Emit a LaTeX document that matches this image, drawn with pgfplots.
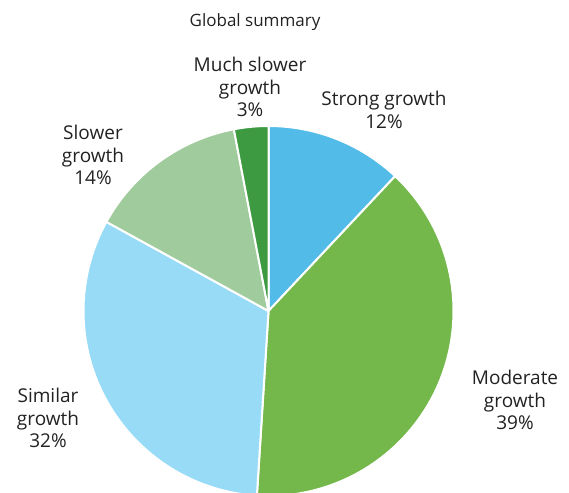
\documentclass[border=0pt]{standalone}
\usepackage{pgfplots}
\pgfplotsset{compat=1.18}
\usepackage{pgfplotstable}
\usepackage{fontspec}
\setmainfont{Open Sans}

\definecolor{cStrong}{HTML}{52BBE8}
\definecolor{cModerate}{HTML}{74B84B}
\definecolor{cSimilar}{HTML}{98DBF7}
\definecolor{cSlower}{HTML}{A0CB9C}
\definecolor{cMuchSlower}{HTML}{3D9A40}
\definecolor{txt}{HTML}{222222}

% shares in percent, clockwise from 12 o'clock
\pgfplotstableread{
share col
12 cStrong
39 cModerate
32 cSimilar
14 cSlower
3  cMuchSlower
}\piedata

\def\cx{268.5}\def\cy{181}\def\R{185}

\begin{document}
\begin{tikzpicture}
\begin{axis}[
    at={(0,0)}, anchor=south west, scale only axis,
    x=1pt, y=1pt, xmin=0, xmax=569, ymin=0, ymax=492,
    hide axis, clip=true,
  ]
  \def\cum{0}
  \pgfplotsforeachungrouped \i in {0,...,4}{%
    \pgfplotstablegetelem{\i}{share}\of\piedata \let\share\pgfplotsretval
    \pgfplotstablegetelem{\i}{col}\of\piedata \let\col\pgfplotsretval
    \pgfmathsetmacro\aStart{90-3.6*\cum}
    \pgfmathsetmacro\aEnd{90-3.6*(\cum+\share)}
    \pgfmathsetmacro\cum{\cum+\share}
    \edef\temp{\noexpand\fill[\col, draw=white, line width=2pt, line join=round]
      (axis cs:\cx,\cy) -- ++(\aStart:\R pt)
      arc[start angle=\aStart, end angle=\aEnd, radius=\R pt] -- cycle;}
    \temp
  }
  \tikzset{lbl/.style={align=center, text=txt, font=\fontsize{19}{22.5}\selectfont}}
  \node[text=txt, font=\fontsize{17}{20}\selectfont] at (axis cs:255,470) {Global summary};
  \node[lbl] at (axis cs:250,405) {Much slower\\growth\\3\%};
  \node[lbl] at (axis cs:384,382) {Strong growth\\12\%};
  \node[lbl] at (axis cs:93,337) {Slower\\growth\\14\%};
  \node[lbl] at (axis cs:48,74) {Similar\\growth\\32\%};
  \node[lbl] at (axis cs:515,92) {Moderate\\growth\\39\%};
\end{axis}
\pgfresetboundingbox
\useasboundingbox (0,0) rectangle (569pt,492pt);
\end{tikzpicture}
\end{document}
